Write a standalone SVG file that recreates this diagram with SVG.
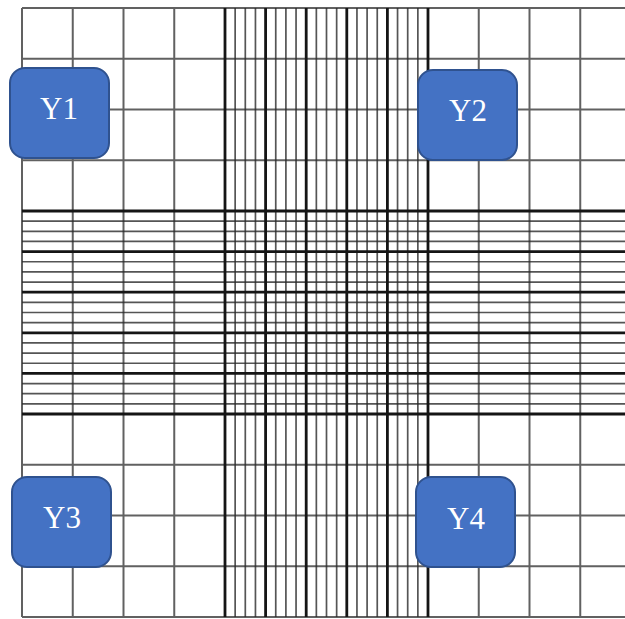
<svg xmlns="http://www.w3.org/2000/svg" width="625" height="619" viewBox="0 0 625 619">
<style>
.outer{fill:none;stroke:#3a3a3a;stroke-width:2;stroke-opacity:0.8}
.thin{fill:none;stroke:#2a2a2a;stroke-width:1.7;stroke-opacity:0.8}
.thick{fill:none;stroke:#151515;stroke-width:2.8}
.node rect{fill:#4472C4;stroke:#2F528F;stroke-width:2}
.node text{fill:#ffffff;font-family:"Liberation Serif","Times New Roman",serif;font-size:31px;text-anchor:middle}
</style>
<rect width="625" height="619" fill="#ffffff"/>
<g id="grid">
<path class="outer" d="M22 8V617M72.75 8V617M123.5 8V617M174.25 8V617M478.75 8V617M529.5 8V617M580.25 8V617M22 8H625M22 58.75H625M22 109.5H625M22 160.25H625M22 464.75H625M22 515.5H625M22 566.25H625M22 617H625"/>
<path class="thin" d="M235.15 8V617M245.3 8V617M255.45 8V617M275.75 8V617M285.9 8V617M296.05 8V617M316.35 8V617M326.5 8V617M336.65 8V617M356.95 8V617M367.1 8V617M377.25 8V617M397.55 8V617M407.7 8V617M417.85 8V617"/>
<path class="thin" d="M22 221.15H625M22 231.3H625M22 241.45H625M22 261.75H625M22 271.9H625M22 282.05H625M22 302.35H625M22 312.5H625M22 322.65H625M22 342.95H625M22 353.1H625M22 363.25H625M22 383.55H625M22 393.7H625M22 403.85H625"/>
<path class="thick" d="M225 8V617M265.6 8V617M306.2 8V617M346.8 8V617M387.4 8V617M428 8V617"/>
<path class="thick" d="M22 211H625M22 251.6H625M22 292.2H625M22 332.8H625M22 373.4H625M22 414H625"/>
</g>
<g id="Y1" class="node"><rect x="10" y="68" width="99" height="90" rx="15"/><text x="59" y="119">Y1</text></g>
<g id="Y2" class="node"><rect x="418" y="70" width="99" height="90" rx="15"/><text x="468" y="121">Y2</text></g>
<g id="Y3" class="node"><rect x="12" y="477" width="99" height="90" rx="15"/><text x="62" y="528">Y3</text></g>
<g id="Y4" class="node"><rect x="416" y="477" width="99" height="90" rx="15"/><text x="466" y="529">Y4</text></g>
</svg>
